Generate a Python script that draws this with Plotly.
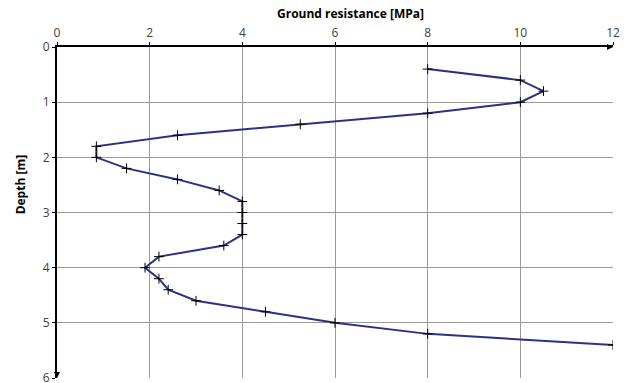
import plotly.graph_objects as go

depth_m = [0.4, 0.6, 0.8, 1.0, 1.2, 1.4, 1.6, 1.8, 2.0, 2.2, 2.4, 2.6, 2.8, 3.0,
           3.2, 3.4, 3.6, 3.8, 4.0, 4.2, 4.4, 4.6, 4.8, 5.0, 5.2, 5.4]
resistance_mpa = [8.0, 10.0, 10.5, 10.0, 8.0, 5.25, 2.6, 0.85, 0.85, 1.5, 2.6, 3.5, 4.0, 4.0,
                  4.0, 4.0, 3.6, 2.2, 1.9, 2.2, 2.4, 3.0, 4.5, 6.0, 8.0, 12.0]
x_ticks = [0, 2, 4, 6, 8, 10, 12]
y_ticks = [0, 1, 2, 3, 4, 5, 6]
x_title = "Ground resistance [MPa]"
y_title = "Depth [m]"

fig = go.Figure()
fig.add_trace(go.Scatter(
    x=resistance_mpa, y=depth_m, mode="lines",
    line=dict(color="#2a3382", width=2),
    showlegend=False, hoverinfo="skip",
))
fig.add_trace(go.Scatter(
    x=resistance_mpa, y=depth_m, mode="markers",
    marker=dict(symbol="cross-thin-open", size=7, color="black",
                line=dict(color="black", width=1)),
    showlegend=False,
))

font_tick = dict(family="Open Sans, Liberation Sans, sans-serif", size=12, color="#404040")
fig.update_layout(
    width=627, height=383,
    margin=dict(l=57, r=14, t=47, b=5, autoexpand=False),
    paper_bgcolor="white", plot_bgcolor="white",
    xaxis=dict(range=[0, 12], side="top", tickvals=x_ticks, ticks="outside", ticklen=3,
               tickcolor="black", showgrid=True, gridcolor="#9a9a9a", gridwidth=1,
               showline=True, linecolor="black", linewidth=2, zeroline=False,
               tickfont=font_tick, fixedrange=True, ticklabeloverflow="allow",
               automargin=False),
    yaxis=dict(range=[6, 0], tickvals=y_ticks, ticks="outside", ticklen=3,
               tickcolor="black", showgrid=True, gridcolor="#9a9a9a", gridwidth=1,
               showline=True, linecolor="black", linewidth=2, zeroline=False,
               tickfont=font_tick, fixedrange=True, ticklabeloverflow="allow",
               automargin=False),
    annotations=[
        dict(text="<b>" + x_title + "</b>", xref="paper", yref="paper", x=0.528, y=1.0,
             yshift=34, showarrow=False, xanchor="center", yanchor="middle",
             font=dict(family="Open Sans, Liberation Sans, sans-serif", size=12, color="black")),
        dict(text="<b>" + y_title + "</b>", xref="paper", yref="paper", x=0.0, y=0.585,
             xshift=-37, showarrow=False, textangle=-90, xanchor="center", yanchor="middle",
             font=dict(family="Open Sans, Liberation Sans, sans-serif", size=12, color="black")),
        dict(x=12, y=0, xref="x", yref="y", ax=-6, ay=0, showarrow=True, arrowhead=2,
             arrowsize=0.8, arrowwidth=1.5, arrowcolor="black", text=""),
        dict(x=0, y=6, xref="x", yref="y", ax=0, ay=-6, showarrow=True, arrowhead=2,
             arrowsize=0.8, arrowwidth=1.5, arrowcolor="black", text=""),
    ],
)

fig.write_html("out.html")
